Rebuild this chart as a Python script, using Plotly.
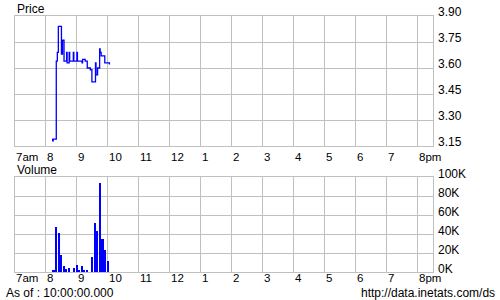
import plotly.graph_objects as go
import pandas as pd

DAY = "2024-01-02 "

# Price trades (time, price) – step line
price_times = ["08:12", "08:13", "08:14", "08:20", "08:22", "08:24", "08:30", "08:32", "08:35",
               "08:40", "08:41", "08:45", "08:46", "08:53", "08:54", "09:00", "09:01",
               "09:10", "09:11", "09:16", "09:20", "09:26", "09:29", "09:36", "09:37",
               "09:40", "09:44", "09:45", "09:47", "09:54", "10:00", "10:03"]
price_values = [3.19, 3.18, 3.19, 3.64, 3.69, 3.84, 3.68, 3.76, 3.64,
                3.69, 3.63, 3.69, 3.64, 3.69, 3.64, 3.69, 3.64,
                3.63, 3.65, 3.64, 3.60, 3.59, 3.52, 3.63, 3.56,
                3.60, 3.71, 3.69, 3.67, 3.63, 3.63, 3.62]

# Volume (5-minute bins)
volume_times = ["08:15", "08:20", "08:25", "08:30", "08:35", "08:40", "08:45", "08:55",
                "09:00", "09:05", "09:10", "09:15", "09:20", "09:30", "09:35", "09:40",
                "09:45", "09:50", "09:55", "10:00"]
volume_values = [1500, 47000, 41000, 18000, 6500, 2500, 3500, 4000,
                 7000, 2000, 5500, 2000, 1500, 15500, 51000, 43000,
                 94000, 35000, 23000, 11000]

hour_ticks = ["07:00", "08:00", "09:00", "10:00", "11:00", "12:00", "13:00", "14:00",
              "15:00", "16:00", "17:00", "18:00", "19:00", "20:00"]
hour_labels = ["7am", "8", "9", "10", "11", "12", "1", "2", "3", "4", "5", "6", "7", "8pm"]

price_ticks = [3.15, 3.30, 3.45, 3.60, 3.75, 3.90]
price_tick_labels = ["3.15", "3.30", "3.45", "3.60", "3.75", "3.90"]
volume_ticks = [0, 20000, 40000, 60000, 80000, 100000]
volume_tick_labels = ["0K", "20K", "40K", "60K", "80K", "100K"]

x_range = [DAY + "07:00", DAY + "20:30"]

FONT = "Liberation Sans, Arial, sans-serif"
GRID = "#c0c0c0"

W, H = 500, 300
ML, MR, MT, MB = 15, 67, 16, 28
PH = H - MT - MB


def py(pix):
    return (H - MB - pix) / PH


fig = go.Figure()
fig.add_trace(go.Scatter(
    x=pd.to_datetime([DAY + t for t in price_times]), y=price_values,
    mode="lines", line=dict(color="#0000ff", width=1.3, shape="hv"),
    xaxis="x", yaxis="y", showlegend=False, hoverinfo="skip"))
fig.add_trace(go.Bar(
    x=pd.to_datetime([DAY + t for t in volume_times]), y=volume_values,
    width=190000, marker=dict(color="#0000ff", line=dict(width=0)),
    xaxis="x2", yaxis="y2", showlegend=False, hoverinfo="skip"))

axis_common = dict(showgrid=True, gridcolor=GRID, gridwidth=1, showline=True,
                   linecolor=GRID, linewidth=1, mirror=True, zeroline=False, ticks="",
                   showticklabels=False)

fig.update_layout(
    width=W, height=H, margin=dict(l=ML, r=MR, t=MT, b=MB, pad=0),
    paper_bgcolor="white", plot_bgcolor="white",
    font=dict(family=FONT, size=12, color="black"),
    xaxis=dict(type="date", range=x_range, domain=[0, 1], anchor="y",
               tickvals=[DAY + t for t in hour_ticks], **axis_common),
    yaxis=dict(range=[3.15, 3.90], domain=[py(146), 1], anchor="x", side="right",
               tickvals=price_ticks, **axis_common),
    xaxis2=dict(type="date", range=x_range, domain=[0, 1], anchor="y2",
                tickvals=[DAY + t for t in hour_ticks], **axis_common),
    yaxis2=dict(range=[0, 100000], domain=[0, py(177.3)], anchor="x2", side="right",
                tickvals=volume_ticks, **axis_common),
    bargap=0,
)

annotations = []
# hour labels, left-aligned at each gridline, above and below the volume panel
for t, lab in zip(hour_ticks, hour_labels):
    for xr, ypix in (("x", 156.7), ("x2", 278.3)):
        annotations.append(dict(x=DAY + t, xref=xr, y=py(ypix), yref="paper",
                                text=lab, showarrow=False, xanchor="left", yanchor="middle",
                                xshift=-1, font=dict(size=11.5, family=FONT)))

# right-hand value labels, slightly above their gridlines
for v, lab in zip(price_ticks, price_tick_labels):
    annotations.append(dict(x=1, xref="x domain", y=v, yref="y", text=lab, showarrow=False,
                            xanchor="left", yanchor="middle", xshift=3, yshift=4,
                            font=dict(size=12, family=FONT)))
for v, lab in zip(volume_ticks, volume_tick_labels):
    annotations.append(dict(x=1, xref="x2 domain", y=v, yref="y2", text=lab, showarrow=False,
                            xanchor="left", yanchor="middle", xshift=3, yshift=3.5,
                            font=dict(size=12, family=FONT)))

texts = [("Price", 15, 8.5, "left"), ("Volume", 15, 170, "left"),
         ("As of : 10:00:00.000", 4, 293, "left"),
         ("http://data.inetats.com/ds", 497, 293, "right")]
for txt, xpix, ypix, anchor in texts:
    annotations.append(dict(x=(xpix - ML) / (W - ML - MR), xref="paper",
                            y=py(ypix), yref="paper",
                            text=txt, showarrow=False, xanchor=anchor, yanchor="middle",
                            font=dict(size=12, family=FONT)))

fig.update_layout(annotations=annotations)
fig.write_html("out.html", config={"displayModeBar": False})
